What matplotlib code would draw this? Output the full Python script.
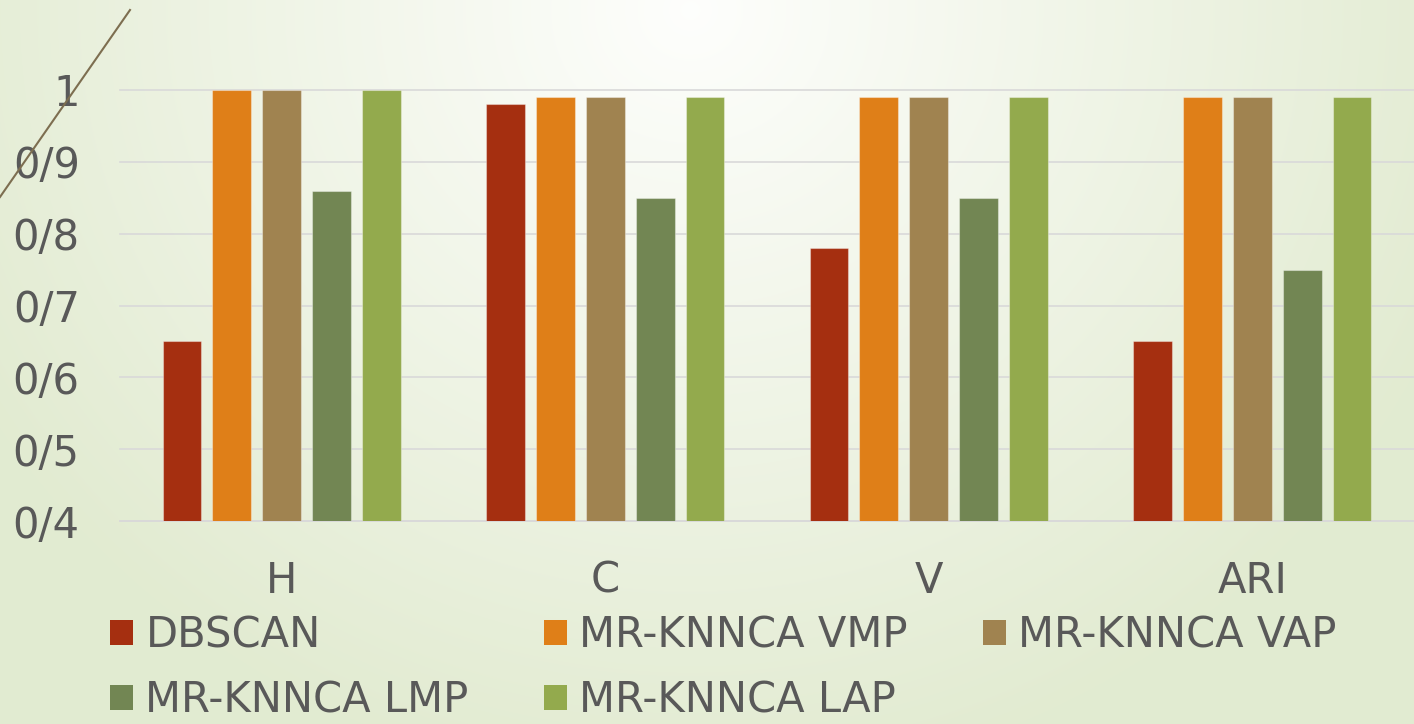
import matplotlib.pyplot as plt
from matplotlib.patches import Patch
from matplotlib.lines import Line2D
import numpy as np

categories = ["H", "C", "V", "ARI"]
series = ["DBSCAN", "MR-KNNCA VMP", "MR-KNNCA VAP", "MR-KNNCA LMP", "MR-KNNCA LAP"]
dbscan = [0.65, 0.98, 0.78, 0.65]
vmp = [1.00, 0.99, 0.99, 0.99]
vap = [1.00, 0.99, 0.99, 0.99]
lmp = [0.86, 0.85, 0.85, 0.75]
lap = [1.00, 0.99, 0.99, 0.99]
ytick_vals = [0.4, 0.5, 0.6, 0.7, 0.8, 0.9, 1.0]
ytick_labels = ["0/4", "0/5", "0/6", "0/7", "0/8", "0/9", "1"]

colors = ["#a52f10", "#df7f18", "#a08350", "#728653", "#93aa4d"]
text_color = "#595959"
fs = 30

W, H = 1414, 724
fig = plt.figure(figsize=(W / 100, H / 100), dpi=100)

# soft radial background, white near the top middle fading to pale green
bg = fig.add_axes([0, 0, 1, 1], zorder=-10)
yy, xx = np.mgrid[0:H, 0:W]
d = np.sqrt(((xx - 690) / 820.0) ** 2 + ((yy - 10) / 780.0) ** 2)
d = np.clip(d, 0, 1)
c0 = np.array([0.995, 0.997, 0.990])
c1 = np.array([0.886, 0.922, 0.820])
img = c0[None, None, :] * (1 - d[..., None]) + c1[None, None, :] * d[..., None]
bg.imshow(img, aspect="auto", extent=[0, 1, 0, 1], origin="upper")
bg.axis("off")

ax = fig.add_axes([120 / W, 1 - 521 / H, 1 - 120 / W, (521 - 90) / H])
ax.patch.set_alpha(0)

x = np.arange(len(categories))
width = 0.12
step = 0.1543
data = [dbscan, vmp, vap, lmp, lap]
for i, (vals, col, name) in enumerate(zip(data, colors, series)):
    ax.bar(x + (i - 2) * step, vals, width, color=col, label=name,
           edgecolor=(1, 1, 1, 0.35), linewidth=0.8, zorder=3)

ax.set_xlim(-0.5, 3.5)
ax.set_ylim(0.4, 1.0)
ax.set_yticks(ytick_vals)
ax.set_yticklabels(ytick_labels)
ax.set_xticks(x)
ax.set_xticklabels(categories)
ax.tick_params(axis="both", length=0, labelsize=fs, labelcolor=text_color)
ax.tick_params(axis="x", pad=28)
ax.tick_params(axis="y", pad=29)
ax.grid(axis="y", color="#d9d9d9", linewidth=1.2, zorder=0)
for gl in ax.get_ygridlines():
    gl.set_clip_on(False)
for s in ax.spines.values():
    s.set_visible(False)
ax.spines["bottom"].set_visible(True)
ax.spines["bottom"].set_color("#d9d9d9")
ax.spines["bottom"].set_linewidth(1.2)

# legend filled row by row
order = [0, 3, 1, 4, 2]
handles = [Patch(facecolor=colors[k], edgecolor="none") for k in order]
labels = [series[k] for k in order]
leg = fig.legend(handles, labels, ncol=3, loc="upper left",
                 bbox_to_anchor=(110 / W, 1 - 614 / H), frameon=False,
                 fontsize=fs, labelcolor=text_color, handlelength=0.55,
                 handleheight=0.55, handletextpad=0.3, columnspacing=1.8,
                 labelspacing=0.56, borderpad=0, borderaxespad=0)

# thin decorative stroke at top-left
fig.add_artist(Line2D([130 / W, 0], [1 - 10 / H, 1 - 197 / H],
                      transform=fig.transFigure, color="#7d6e50", linewidth=1.5))

fig.savefig("out.png", dpi=100)
